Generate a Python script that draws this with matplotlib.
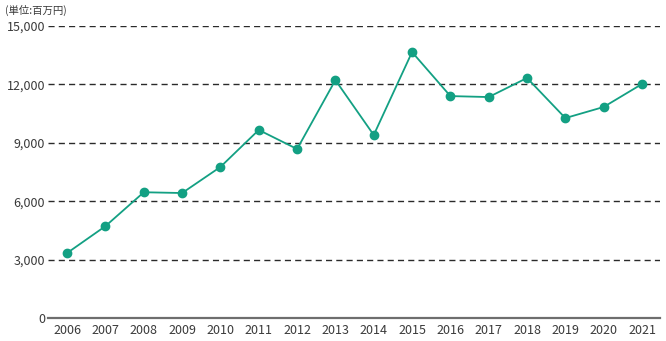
import matplotlib
matplotlib.use("Agg")
import matplotlib.pyplot as plt
from matplotlib.ticker import FuncFormatter

plt.rcParams['font.family'] = ['Noto Sans CJK JP', 'DejaVu Sans']

years = [2006, 2007, 2008, 2009, 2010, 2011, 2012, 2013, 2014, 2015,
         2016, 2017, 2018, 2019, 2020, 2021]
values = [3340, 4720, 6460, 6420, 7760, 9660, 8680, 12220, 9400, 13660,
          11400, 11350, 12330, 10270, 10840, 12020]
y_ticks = [0, 3000, 6000, 9000, 12000, 15000]
unit_label = "(単位:百万円)"

line_color = "#13a083"
text_color = "#3a3a3a"

fig = plt.figure(figsize=(6.66, 3.41), dpi=100)
ax = fig.add_axes([48 / 666, 23 / 341, 612 / 666, 292 / 341])

ax.set_xlim(2005.5, 2021.47)
ax.set_ylim(0, 15000)

for t in y_ticks[1:]:
    ax.axhline(t, color="#2a2a2a", lw=1.0, ls=(0, (4.4, 3.0)), zorder=1)
ax.axhline(0, color="#6e6e6e", lw=1.6, zorder=2, clip_on=False)

ax.plot(years, values, color=line_color, lw=1.3, marker="o", ms=6,
        markerfacecolor=line_color, markeredgecolor=line_color, zorder=3)

ax.set_xticks(years)
ax.set_xticklabels([str(y) for y in years])
ax.set_yticks(y_ticks)
ax.yaxis.set_major_formatter(FuncFormatter(lambda v, p: f"{int(v):,}"))
ax.tick_params(axis="both", length=0, labelsize=9, colors=text_color)
ax.tick_params(axis="y", pad=2)
ax.tick_params(axis="x", pad=4)

for s in ax.spines.values():
    s.set_visible(False)

fig.text(5 / 666, 1 - 10 / 341, unit_label, fontsize=7.5, color=text_color,
         ha="left", va="center")

fig.savefig("out.png", dpi=100)
